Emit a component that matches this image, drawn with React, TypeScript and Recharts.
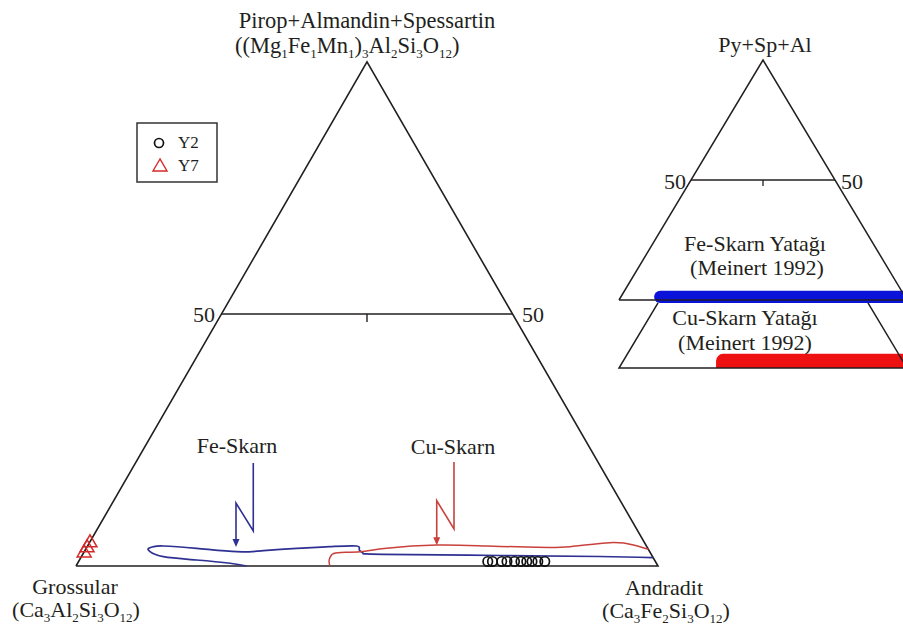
import React from 'react';
import { ScatterChart, Scatter, XAxis, YAxis, ReferenceArea, Rectangle } from 'recharts';

type Comp = { and: number; pyr: number };

// ---- data (compositions in %: andradite, pyralspite; grossular = rest) ----
const y2Samples: Comp[] = [
  { and: 70.3, pyr: 0.9 }, { and: 71.1, pyr: 0.9 }, { and: 72.7, pyr: 0.9 },
  { and: 73.6, pyr: 0.9 }, { and: 74.9, pyr: 0.9 }, { and: 76.0, pyr: 0.9 },
  { and: 77.0, pyr: 0.9 }, { and: 77.9, pyr: 0.9 }, { and: 78.9, pyr: 0.9 },
  { and: 80.1, pyr: 0.9 },
];
const y7Samples: Comp[] = [
  { and: 0, pyr: 4.8 }, { and: 0, pyr: 3.8 }, { and: 0, pyr: 2.8 },
];
const feSkarnBoundary: Comp[] = [
  { and: 29.3, pyr: 0 }, { and: 26.2, pyr: 0.54 }, { and: 20.1, pyr: 1.19 },
  { and: 14.1, pyr: 1.85 }, { and: 11.3, pyr: 2.84 }, { and: 10.7, pyr: 3.51 },
  { and: 11.4, pyr: 3.83 }, { and: 13.0, pyr: 3.97 }, { and: 19.0, pyr: 3.51 },
  { and: 26.2, pyr: 2.84 }, { and: 30.7, pyr: 3.04 }, { and: 36.2, pyr: 3.51 },
  { and: 41.7, pyr: 3.83 }, { and: 46.2, pyr: 3.97 }, { and: 47.1, pyr: 3.17 },
  { and: 48.1, pyr: 2.52 }, { and: 51.6, pyr: 2.32 }, { and: 71.8, pyr: 2.08 },
  { and: 89.1, pyr: 1.88 }, { and: 98.3, pyr: 1.65 },
];
const cuSkarnBoundary: Comp[] = [
  { and: 43.6, pyr: 0 }, { and: 42.9, pyr: 1.19 }, { and: 42.8, pyr: 2.18 },
  { and: 43.7, pyr: 2.64 }, { and: 47.4, pyr: 2.84 }, { and: 51.6, pyr: 3.51 },
  { and: 59.9, pyr: 4.17 }, { and: 68.6, pyr: 3.97 }, { and: 77.3, pyr: 3.71 },
  { and: 83.0, pyr: 3.83 }, { and: 89.4, pyr: 4.62 }, { and: 93.7, pyr: 4.17 },
  { and: 96.7, pyr: 3.31 },
];
const feSkarnPointer: Comp[] = [
  { and: 20.24, pyr: 20.44 }, { and: 26.99, pyr: 6.94 },
  { and: 21.24, pyr: 12.5 }, { and: 25.41, pyr: 4.17 },
];
const cuSkarnPointer: Comp[] = [
  { and: 54.63, pyr: 20.63 }, { and: 61.28, pyr: 7.34 },
  { and: 55.5, pyr: 12.96 }, { and: 59.73, pyr: 4.5 },
];
const triangleFrame: Comp[] = [
  { and: 0, pyr: 0 }, { and: 100, pyr: 0 }, { and: 0, pyr: 100 }, { and: 0, pyr: 0 },
];
const line50: Comp[] = [{ and: 0, pyr: 50 }, { and: 50, pyr: 50 }];
const tickMain: Comp[] = [{ and: 25, pyr: 50 }, { and: 25.8, pyr: 48.4 }];
const tickSmall: Comp[] = [{ and: 25, pyr: 50 }, { and: 26.25, pyr: 47.5 }];
const cuFrame: Comp[] = [
  { and: 0, pyr: 27.1 }, { and: 0, pyr: 0 }, { and: 100, pyr: 0 }, { and: 72.9, pyr: 27.1 },
];
const feSkarnRange = [12.2, 100];
const cuSkarnRange = [33.7, 100];

// ---- transforms ----
const toMain = (c: Comp) => ({ x: c.and + c.pyr / 2, y: (c.pyr * Math.sqrt(3)) / 2 });
const toSmall = (c: Comp) => ({ x: c.and + c.pyr / 2, y: c.pyr });

const INK = '#231f20';
const BLUE = '#2e3192';
const RED = '#c8413c';
const FONT = "'Liberation Serif', 'Times New Roman', serif";

const NoDot = () => <g />;
const CircleDot = (p: any) => (
  <circle cx={p.cx} cy={p.cy} r={4.7} fill="none" stroke="#111" strokeWidth={1.7} />
);
const TriDot = (p: any) => (
  <polygon
    points={`${p.cx},${p.cy - 7} ${p.cx - 7},${p.cy + 5} ${p.cx + 7},${p.cy + 5}`}
    fill="none"
    stroke="#d42a2a"
    strokeWidth={1.5}
  />
);
const arrowHead = (color: string) => (p: any) => (
  <polygon
    points={`${p.cx - 3.5},${p.cy - 6} ${p.cx + 3.5},${p.cy - 6} ${p.cx},${p.cy + 2}`}
    fill={color}
  />
);

const lineSeries = (data: Comp[], tf: (c: Comp) => any, stroke: string, width: number, joint = 'linear', key = '') => (
  <Scatter
    key={key}
    data={data.map(tf)}
    line={{ stroke, strokeWidth: width, fill: 'none' }}
    lineType="joint"
    lineJointType={joint as any}
    shape={NoDot}
    isAnimationActive={false}
    legendType="none"
  />
);

function MainChart() {
  // plot spans page pixels; 5.82 px per unit, origin at (76,566)
  const k = 5.82;
  return (
    <div style={{ position: 'absolute', left: 0, top: 0 }}>
      <ScatterChart width={903} height={635} margin={{ top: 0, right: 0, bottom: 0, left: 0 }}>
        <XAxis type="number" dataKey="x" hide domain={[-76 / k, (903 - 76) / k]} allowDataOverflow />
        <YAxis type="number" dataKey="y" hide domain={[(566 - 635) / k, 566 / k]} allowDataOverflow />
        {lineSeries(triangleFrame, toMain, INK, 1.6, 'linear', 'frame')}
        {lineSeries(line50, toMain, INK, 1.4, 'linear', 'l50')}
        {lineSeries(tickMain, toMain, INK, 1.4, 'linear', 'tick')}
        {lineSeries(feSkarnBoundary, toMain, BLUE, 1.7, 'natural', 'fe')}
        {lineSeries(cuSkarnBoundary, toMain, RED, 1.5, 'natural', 'cu')}
        {lineSeries(feSkarnPointer, toMain, BLUE, 1.6, 'linear', 'fep')}
        {lineSeries(cuSkarnPointer, toMain, RED, 1.6, 'linear', 'cup')}
        <Scatter data={feSkarnPointer.slice(-1).map(toMain)} shape={arrowHead(BLUE)} isAnimationActive={false} />
        <Scatter data={cuSkarnPointer.slice(-1).map(toMain)} shape={arrowHead(RED)} isAnimationActive={false} />
        <Scatter name="Y2" data={y2Samples.map(toMain)} shape={CircleDot} isAnimationActive={false} />
        <Scatter name="Y7" data={y7Samples.map(toMain)} shape={TriDot} isAnimationActive={false} />
      </ScatterChart>
    </div>
  );
}

// small panel: 2.88 px per X unit, 2.4 px per pyr unit, X=0 at local x 19
const SK = 2.88;
const SY = 2.4;

function FePanel() {
  return (
    <div style={{ position: 'absolute', left: 600, top: 0 }}>
      <ScatterChart width={303} height={310} margin={{ top: 0, right: 0, bottom: 0, left: 0 }}>
        <XAxis type="number" dataKey="x" hide domain={[-19 / SK, (303 - 19) / SK]} allowDataOverflow />
        <YAxis type="number" dataKey="y" hide domain={[-10 / SY, 300 / SY]} allowDataOverflow />
        {lineSeries(triangleFrame, toSmall, INK, 1.5, 'linear', 'frame')}
        {lineSeries(line50, toSmall, INK, 1.4, 'linear', 'l50')}
        {lineSeries(tickSmall, toSmall, INK, 1.3, 'linear', 'tick')}
        <ReferenceArea
          x1={feSkarnRange[0]}
          x2={feSkarnRange[1]}
          y1={-1.3}
          y2={3.9}
          ifOverflow="visible"
          shape={(p: any) => (
            <Rectangle x={p.x} y={p.y} width={p.width} height={p.height} radius={[6, 0, 0, 6]} fill="#0b12d9" stroke="none" />
          )}
        />
      </ScatterChart>
    </div>
  );
}

function CuPanel() {
  return (
    <div style={{ position: 'absolute', left: 600, top: 295 }}>
      <ScatterChart width={303} height={80} margin={{ top: 0, right: 0, bottom: 0, left: 0 }}>
        <XAxis type="number" dataKey="x" hide domain={[-19 / SK, (303 - 19) / SK]} allowDataOverflow />
        <YAxis type="number" dataKey="y" hide domain={[-7 / SY, 73 / SY]} allowDataOverflow />
        <ReferenceArea
          x1={cuSkarnRange[0]}
          x2={cuSkarnRange[1]}
          y1={0}
          y2={5.9}
          ifOverflow="visible"
          shape={(p: any) => (
            <Rectangle x={p.x} y={p.y} width={p.width} height={p.height} radius={[7, 0, 0, 0]} fill="#ee1111" stroke="none" />
          )}
        />
        {lineSeries(cuFrame, toSmall, INK, 1.5, 'linear', 'frame')}
      </ScatterChart>
    </div>
  );
}

type Part = [string, boolean];
const formula = (parts: Part[], subSize: number) => {
  let down = false;
  return parts.map(([t, sub], i) => {
    let dy = 0;
    if (sub && !down) { dy = 5; down = true; }
    else if (!sub && down) { dy = -5; down = false; }
    return (
      <tspan key={i} dy={dy} fontSize={sub ? subSize : undefined}>{t}</tspan>
    );
  });
};

const pyrFormula: Part[] = [
  ['((Mg', false], ['1', true], ['Fe', false], ['1', true], ['Mn', false], ['1', true],
  [')', false], ['3', true], ['Al', false], ['2', true], ['Si', false], ['3', true],
  ['O', false], ['12', true], [')', false],
];
const groFormula: Part[] = [
  ['(Ca', false], ['3', true], ['Al', false], ['2', true], ['Si', false], ['3', true],
  ['O', false], ['12', true], [')', false],
];
const andFormula: Part[] = [
  ['(Ca', false], ['3', true], ['Fe', false], ['2', true], ['Si', false], ['3', true],
  ['O', false], ['12', true], [')', false],
];

function Overlay() {
  return (
    <svg
      width={903}
      height={635}
      style={{ position: 'absolute', left: 0, top: 0, pointerEvents: 'none' }}
      fontFamily={FONT}
      fill={INK}
    >
      <text x={367} y={28} textAnchor="middle" fontSize={22.5}>Pirop+Almandin+Spessartin</text>
      <text x={235} y={53} fontSize={22.5}>{formula(pyrFormula, 13)}</text>

      <text x={215} y={322} textAnchor="end" fontSize={22}>50</text>
      <text x={522} y={322} fontSize={22}>50</text>

      <text x={75} y={594} textAnchor="middle" fontSize={22}>Grossular</text>
      <text x={76} y={617} textAnchor="middle" fontSize={22}>{formula(groFormula, 13)}</text>
      <text x={664} y={595} textAnchor="middle" fontSize={22}>Andradit</text>
      <text x={666} y={618} textAnchor="middle" fontSize={22}>{formula(andFormula, 13)}</text>

      <text x={237} y={453} textAnchor="middle" fontSize={22}>Fe-Skarn</text>
      <text x={453} y={454} textAnchor="middle" fontSize={22}>Cu-Skarn</text>

      <rect x={137} y={123} width={80} height={59} fill="none" stroke="#333" strokeWidth={1.5} />
      <circle cx={159} cy={143} r={4.5} fill="none" stroke="#111" strokeWidth={1.7} />
      <text x={178} y={148} fontSize={17}>Y2</text>
      <polygon points="160,159 153,171 167,171" fill="none" stroke="#d42a2a" strokeWidth={1.4} />
      <text x={178} y={171} fontSize={17}>Y7</text>

      <text x={765} y={52} textAnchor="middle" fontSize={22}>Py+Sp+Al</text>
      <text x={686} y={189} textAnchor="end" fontSize={22}>50</text>
      <text x={841} y={189} fontSize={22}>50</text>
      <text x={755} y={251} textAnchor="middle" fontSize={22}>Fe-Skarn Yatağı</text>
      <text x={757} y={275} textAnchor="middle" fontSize={22}>(Meinert 1992)</text>
      <text x={745} y={325} textAnchor="middle" fontSize={22}>Cu-Skarn Yatağı</text>
      <text x={745} y={350} textAnchor="middle" fontSize={22}>(Meinert 1992)</text>
    </svg>
  );
}

export default function App() {
  return (
    <div
      style={{
        position: 'absolute',
        left: 0,
        top: 0,
        width: 903,
        height: 635,
        background: '#fff',
        overflow: 'hidden',
      }}
    >
      <MainChart />
      <FePanel />
      <CuPanel />
      <Overlay />
    </div>
  );
}
